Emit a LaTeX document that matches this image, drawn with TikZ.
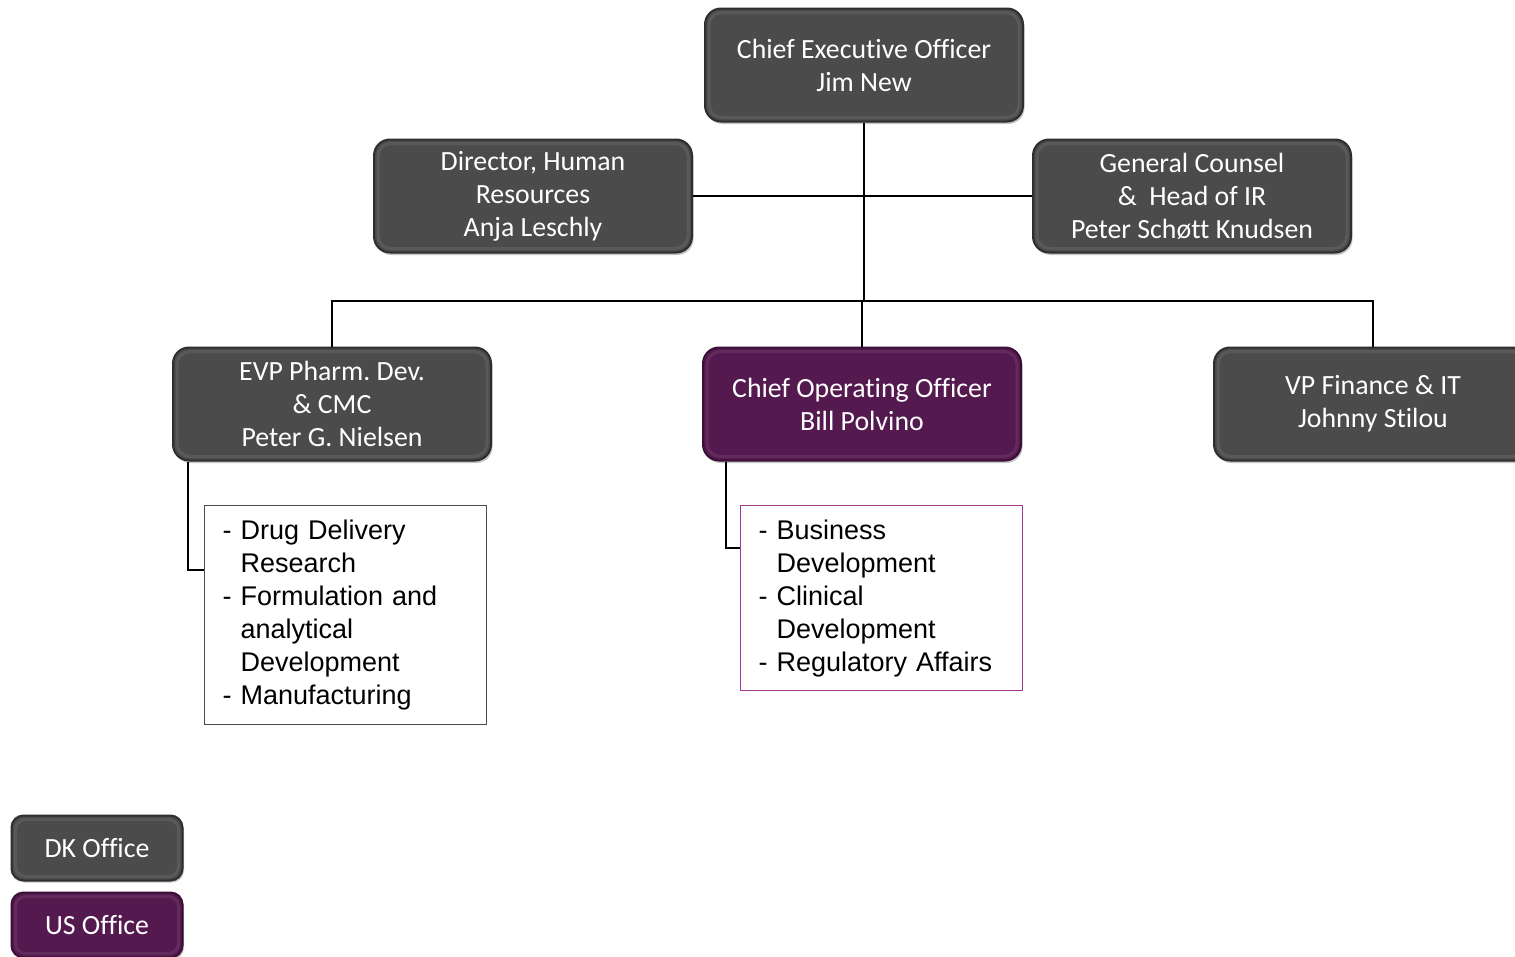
\documentclass[tikz,border=0pt]{standalone}
\usepackage{fontspec}
\setmainfont{Carlito}[Ligatures=NoCommon]
\newfontfamily\arialfont{Liberation Sans}
\usetikzlibrary{shadows}
\definecolor{dkgray}{HTML}{4B4B4B}
\definecolor{dkedge}{HTML}{2E2E2E}
\definecolor{uspurple}{HTML}{541A4F}
\definecolor{usedge}{HTML}{3A0E36}
\definecolor{listpurple}{HTML}{9E3A94}
\tikzset{
  role/.style={rounded corners=16pt, minimum width=318pt, minimum height=113pt,
    align=center, text=white, font=\frenchspacing\fontsize{27.8}{33}\selectfont, line width=2pt,
    drop shadow={shadow xshift=1.5pt, shadow yshift=-2.5pt, opacity=0.45},
    path picture={\draw[white, opacity=0.08, line width=3pt, rounded corners=13pt]
      ([xshift=4pt,yshift=-4pt]path picture bounding box.north west) rectangle
      ([xshift=-4pt,yshift=4pt]path picture bounding box.south east);}},
  dk/.style={role, fill=dkgray, draw=dkedge},
  us/.style={role, fill=uspurple, draw=usedge},
  legend/.style={rounded corners=12pt, minimum width=171pt, minimum height=65pt,
    text=white, font=\fontsize{27.8}{33}\selectfont, line width=2pt,
    drop shadow={shadow xshift=1.5pt, shadow yshift=-2pt, opacity=0.45},
    path picture={\draw[white, opacity=0.08, line width=3pt, rounded corners=10pt]
      ([xshift=4pt,yshift=-4pt]path picture bounding box.north west) rectangle
      ([xshift=-4pt,yshift=4pt]path picture bounding box.south east);}},
  listbox/.style={draw, line width=1.2pt, anchor=north west, text width=246pt,
    inner xsep=18pt, inner ysep=2pt, align=left,
    font=\arialfont\fontsize{27}{33}\selectfont},
  conn/.style={draw=black, line width=1.5pt}
}
\newcommand{\hg}{\phantom{- }}
\begin{document}
\begin{tikzpicture}[x=1pt,y=-1pt]
\clip (0,0) rectangle (1515,956);
\fill[white] (0,0) rectangle (1515,956);

\node[dk] (ceo) at (864,65) {Chief Executive Officer\\Jim New};
\node[dk] (hr) at (533,196) {Director, Human\\Resources\\Anja Leschly};
\node[dk] (gc) at (1192,196) {General Counsel\\\&\ \ Head of IR\\Peter Schøtt Knudsen};
\node[dk] (evp) at (332,404) {EVP Pharm. Dev.\\\& CMC\\Peter G. Nielsen};
\node[us] (coo) at (862,404) {Chief Operating Officer\\Bill Polvino};
\node[dk] (vp) at (1373,404) {VP Finance \& IT\\Johnny Stilou};

\node[listbox, draw=black!70, minimum height=219pt] (list1) at (204,505)
  {- Drug Delivery\\\hg Research\\- Formulation and\\\hg analytical\\\hg Development\\- Manufacturing};
\node[listbox, draw=listpurple, minimum height=185pt] (list2) at (740,505)
  {- Business\\\hg Development\\- Clinical\\\hg Development\\- Regulatory Affairs};

\node[legend, fill=dkgray, draw=dkedge] (dkl) at (97,848) {DK Office};
\node[legend, fill=uspurple, draw=usedge] (usl) at (97,925) {US Office};

\coordinate (jct) at (863,301);
\draw[conn] (ceo.south) -- (ceo.south |- jct);
\draw[conn] (hr.east) -- (gc.west);
\draw[conn] (evp.north) -- (evp.north |- jct) -- (vp.north |- jct) -- (vp.north);
\draw[conn] (coo.north) -- (coo.north |- jct);
\draw[conn] ([xshift=16pt]evp.south west) |- ([yshift=-65pt]list1.north west);
\draw[conn] ([xshift=24pt]coo.south west) |- ([yshift=-43pt]list2.north west);
\end{tikzpicture}
\end{document}
